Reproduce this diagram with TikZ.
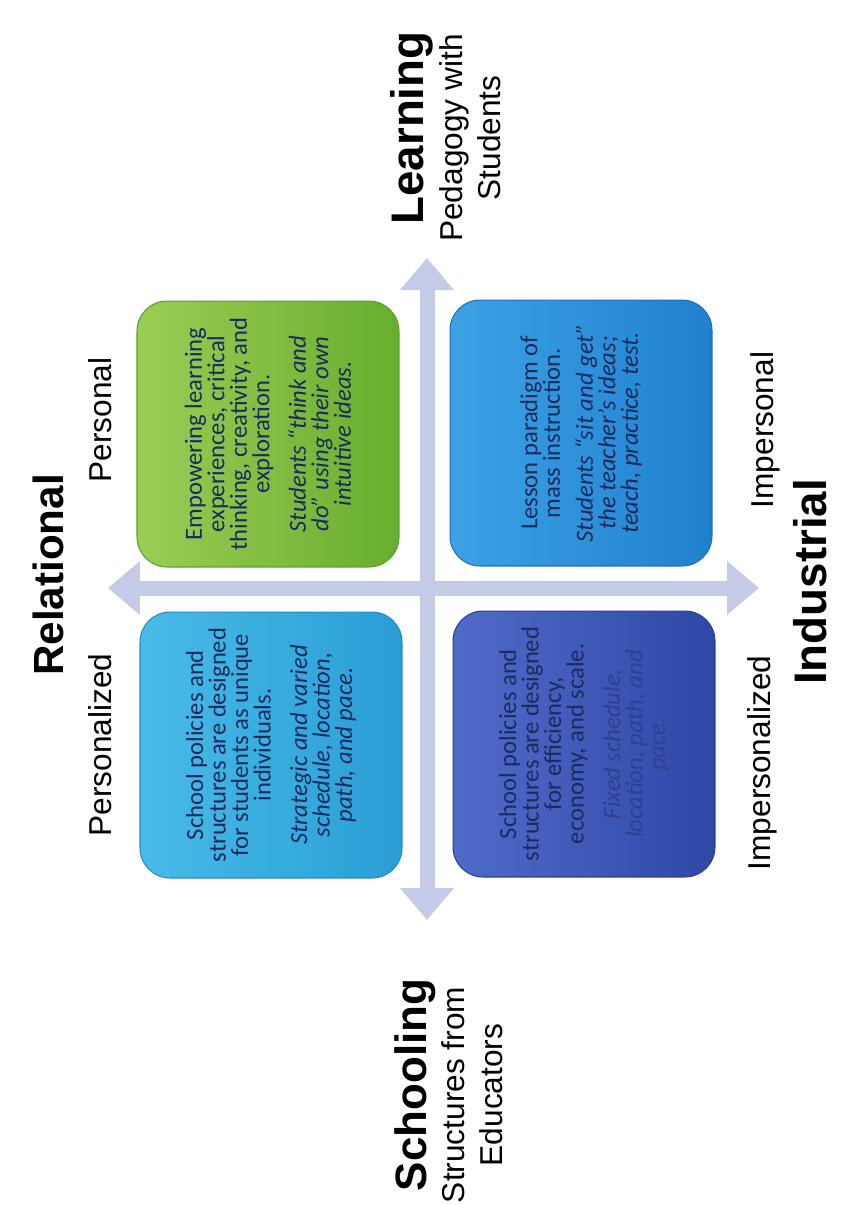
\documentclass[tikz,border=0pt]{standalone}
\usepackage{fontspec}
\setmainfont{Liberation Sans}
\newfontfamily\boxfont{Carlito}
\usetikzlibrary{arrows.meta}

\definecolor{axisblue}{HTML}{C3CBE6}
\definecolor{textnavy}{HTML}{1B2B5E}
\definecolor{greenA}{HTML}{9ACD55}
\definecolor{greenB}{HTML}{68AE2E}
\definecolor{greenE}{HTML}{5E9E2C}
\definecolor{skyA}{HTML}{48BBE8}
\definecolor{skyB}{HTML}{2A9DD6}
\definecolor{skyE}{HTML}{1E8CC4}
\definecolor{blueA}{HTML}{3BA2E4}
\definecolor{blueB}{HTML}{2180CE}
\definecolor{blueE}{HTML}{1B6FBF}
\definecolor{navyA}{HTML}{4F6BC8}
\definecolor{navyB}{HTML}{2F48A6}
\definecolor{navyE}{HTML}{2A3F95}
\definecolor{fadenavy}{HTML}{2D4190}

\begin{document}
\begin{tikzpicture}[x=0.02cm, y=-0.02cm,
    quad/.style={draw, rounded corners=0.6cm, rotate=90, line width=0.6pt,
      minimum width=5.32cm, minimum height=5.24cm, inner sep=0pt,
      align=center, text=textnavy,
      font=\boxfont\fontsize{14}{12.8}\selectfont},
    head/.style={rotate=90, font=\bfseries\fontsize{26}{30}\selectfont},
    side/.style={rotate=90, align=center, font=\fontsize{18}{21.5}\selectfont},
    axis/.style={draw=axisblue, line width=0.3cm,
      {Triangle[width=1.04cm,length=0.64cm]}-{Triangle[width=1.04cm,length=0.64cm]}}]
  \useasboundingbox (0,0) rectangle (841,1205);

  % Axis ends
  \coordinate (top) at (427,258);
  \coordinate (bot) at (427,920);
  \coordinate (lft) at (108,588);
  \coordinate (rgt) at (759,588);
  \draw[axis] (bot) -- (top);
  \draw[axis] (lft) -- (rgt);

  % Quadrants
  \node[quad, draw=greenE, left color=greenA, right color=greenB] (personal) at (268,434)
    {Empowering learning\\experiences, critical\\thinking, creativity, and\\exploration.\\[8pt]
     \textit{Students “think and}\\\textit{do” using their own}\\\textit{intuitive ideas.}};
  \node[quad, draw=skyE, left color=skyA, right color=skyB] (personalized) at (271,745)
    {School policies and\\structures are designed\\for students as unique\\individuals.\\[8pt]
     \textit{Strategic and varied}\\\textit{schedule, location,}\\\textit{path, and pace.}};
  \node[quad, draw=blueE, left color=blueA, right color=blueB] (impersonal) at (581,433)
    {Lesson paradigm of\\mass instruction.\\[6pt]
     \textit{Students “sit and get”}\\\textit{the teacher’s ideas;}\\\textit{teach, practice, test.}};
  \node[quad, draw=navyE, left color=navyA, right color=navyB] (impersonalized) at (584,744)
    {School policies and\\structures are designed\\for efficiency,\\economy, and scale.\\[8pt]
     \textcolor{fadenavy}{\textit{Fixed schedule,}}\\\textcolor{fadenavy}{\textit{location, path, and}}\\\textcolor{fadenavy}{\textit{pace.}}};

  % Axis titles
  \node[head, font=\bfseries\fontsize{24}{28}\selectfont] (relational) at (48,575) {Relational};
  \node[head] (industrial) at (810,582) {Industrial};
  \node[head] (learning) at (412,128) {Learning};
  \node[side] (learningsub) at (470,138) {Pedagogy with\\Students};
  \node[head, font=\bfseries\fontsize{25}{29}\selectfont] (schooling) at (415,1085) {Schooling};
  \node[side] (schoolingsub) at (472,1095) {Structures from\\Educators};

  % Side labels
  \node[side] (lblpersonal) at (100,420) {Personal};
  \node[side] (lblpersonalized) at (100,745) {Personalized};
  \node[side] (lblimpersonal) at (765,430) {Impersonal};
  \node[side] (lblimpersonalized) at (762,763) {Impersonalized};
\end{tikzpicture}
\end{document}
